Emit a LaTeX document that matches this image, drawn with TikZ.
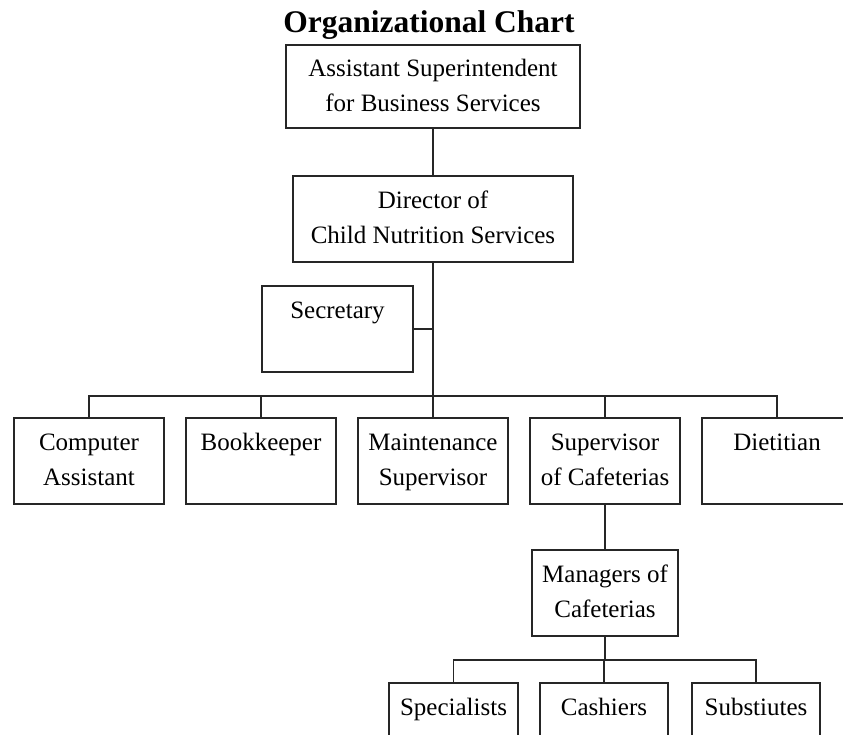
\documentclass[tikz,border=0pt]{standalone}
\usepackage{fontspec}
\setmainfont{Liberation Serif}
\begin{document}
\begin{tikzpicture}[x=1pt,y=-1pt,
  orgbox/.style={draw=black!85, line width=1.7pt, align=center, inner sep=0pt,
    font=\fontsize{25}{35}\selectfont, minimum height=86pt, minimum width=150pt},
  link/.style={draw=black!85, line width=1.7pt}]
\useasboundingbox (0,0) rectangle (843,734);
\clip (0,0) rectangle (843,734);
\fill[white] (0,0) rectangle (843,734);
\node[anchor=base, font=\fontsize{31.5}{36}\selectfont\bfseries] (title) at (429,32) {Organizational Chart};
\node[orgbox, minimum width=294pt, minimum height=83pt] (top) at (433,86.5) {Assistant Superintendent\strut\\for Business Services\strut};
\node[orgbox, minimum width=280pt] (dir) at (433,219) {Director of\strut\\Child Nutrition Services\strut};
\node[orgbox, minimum width=151pt] (sec) at (337.5,329) {Secretary\strut\\\strut};
\node[orgbox] (comp) at (89,461) {Computer\strut\\Assistant\strut};
\node[orgbox] (book) at (261,461) {Bookkeeper\strut\\\strut};
\node[orgbox] (maint) at (433,461) {Maintenance\strut\\Supervisor\strut};
\node[orgbox] (supc) at (605,461) {Supervisor\strut\\of Cafeterias\strut};
\node[orgbox] (diet) at (777,461) {Dietitian\strut\\\strut};
\node[orgbox, minimum width=146pt] (mgr) at (605,593) {Managers of\strut\\Cafeterias\strut};
\node[orgbox, minimum width=129pt] (spec) at (453.5,726) {Specialists\strut\\\strut};
\node[orgbox, minimum width=128pt] (cash) at (604,726) {Cashiers\strut\\\strut};
\node[orgbox, minimum width=128pt] (subs) at (756,726) {Substiutes\strut\\\strut};
\coordinate (bus) at (433,396);
\coordinate (bustwo) at (605,660);
\draw[link] (top.south) -- (dir.north);
\draw[link] (dir.south) -- (bus);
\draw[link] (sec.east) -- (sec.east -| dir.south);
\draw[link] (comp.north) -- (comp.north |- bus) -- (diet.north |- bus) -- (diet.north);
\draw[link] (book.north) -- (book.north |- bus);
\draw[link] (maint.north) -- (maint.north |- bus);
\draw[link] (supc.north) -- (supc.north |- bus);
\draw[link] (supc.south) -- (mgr.north);
\draw[link] (mgr.south) -- (bustwo);
\draw[link] (spec.north) -- (spec.north |- bustwo) -- (subs.north |- bustwo) -- (subs.north);
\draw[link] (cash.north) -- (cash.north |- bustwo);
\end{tikzpicture}
\end{document}
